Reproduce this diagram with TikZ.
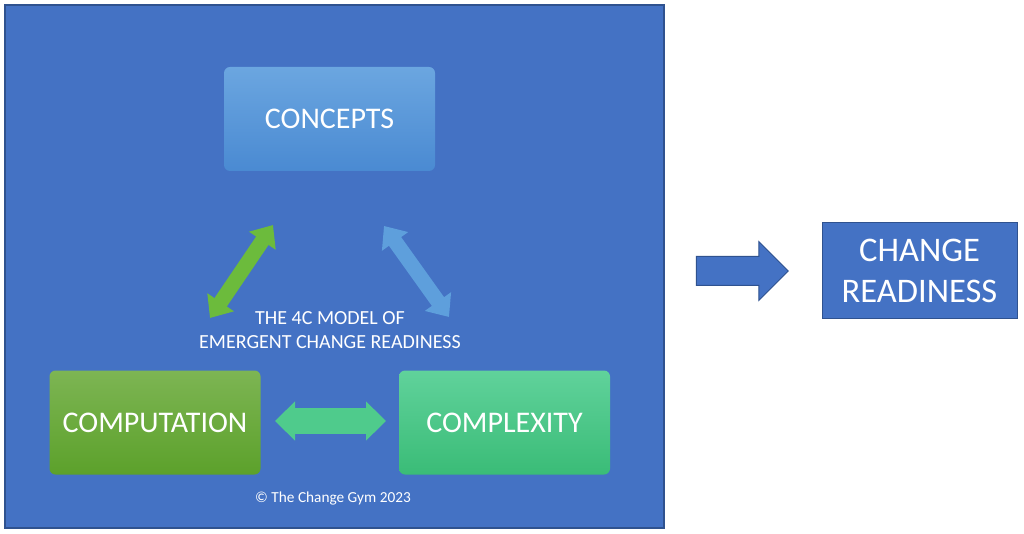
\documentclass[tikz,border=0pt]{standalone}
\usepackage{fontspec}
\setmainfont{Carlito}
\usetikzlibrary{arrows.meta,shapes.arrows}
\definecolor{panelblue}{HTML}{4472C4}
\definecolor{edgeblue}{HTML}{2F528F}
\definecolor{concepttop}{HTML}{6BA6E0}
\definecolor{conceptbot}{HTML}{4A8AD2}
\definecolor{comptop}{HTML}{7DB553}
\definecolor{compbot}{HTML}{5CA12B}
\definecolor{cplxtop}{HTML}{60D29B}
\definecolor{cplxbot}{HTML}{3ABC77}
\definecolor{linkgreen}{HTML}{6CBB3C}
\definecolor{linkblue}{HTML}{5E9FDC}
\definecolor{linkteal}{HTML}{4FCB8C}

\begin{document}
\begin{tikzpicture}[
x=1pt, y=-1pt,
font=\color{white},
cbox/.style={rounded corners=6pt, shade, minimum width=211pt, minimum height=104pt,
  font=\color{white}\fontsize{30}{36}\selectfont},
fatlink/.style={line width=15pt, {Triangle[width=31pt,length=19pt]}-{Triangle[width=31pt,length=19pt]}}
]
\useasboundingbox (0,0) rectangle (1024,534);
\fill[white] (0,0) rectangle (1024,534);

\node[draw=edgeblue, fill=panelblue, line width=1.2pt, minimum width=659pt, minimum height=523pt,
  inner sep=0pt] (panel) at (334.5,266.5) {};

\node[cbox, top color=concepttop, bottom color=conceptbot] (concepts) at (329.5,119) {CONCEPTS};
\node[cbox, top color=comptop, bottom color=compbot] (computation) at (155,422.5) {COMPUTATION};
\node[cbox, top color=cplxtop, bottom color=cplxbot] (complexity) at (504.5,422.5) {COMPLEXITY};

% two-way links
\coordinate (g1) at (273,225);
\coordinate (g2) at (210,318);
\coordinate (b1) at (384,226);
\coordinate (b2) at (449,317);
\coordinate (h1) at (275,421);
\coordinate (h2) at (386,421);
\draw[fatlink, linkgreen] (g1) -- (g2);
\draw[fatlink, linkblue] (b1) -- (b2);
\draw[fatlink, linkteal, line width=26pt, {Triangle[width=38pt,length=20pt]}-{Triangle[width=38pt,length=20pt]}] (h1) -- (h2);

\node[align=center, font=\color{white}\fontsize{20}{24}\selectfont] (title) at (330,330)
  {THE 4C MODEL OF\\EMERGENT CHANGE READINESS};
\node[font=\color{white}\fontsize{15.3}{18}\selectfont] (copy) at (333,498) {© The Change Gym 2023};

% outcome
\node[single arrow, draw=edgeblue, fill=panelblue, line width=1pt, minimum height=92pt,
  minimum width=58pt, single arrow head extend=15pt, inner xsep=0pt, inner ysep=14pt] (goarrow) at (735,271) {};
\node[draw=edgeblue, fill=panelblue, line width=1pt, minimum width=195pt, minimum height=95pt,
  align=center, font=\color{white}\fontsize{34.5}{41}\selectfont] (readiness) at (919.5,270.5)
  {CHANGE\\READINESS};
\end{tikzpicture}
\end{document}
